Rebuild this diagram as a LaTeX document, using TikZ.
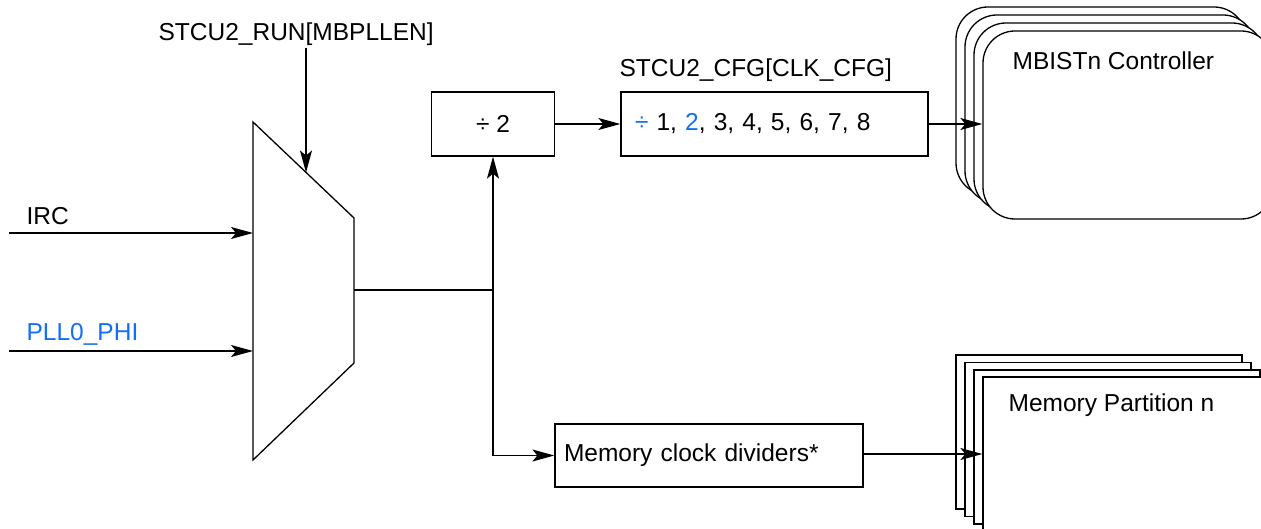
\documentclass[tikz,border=0pt]{standalone}
\usepackage{fontspec}
\setmainfont{Liberation Sans}
\usetikzlibrary{arrows.meta}
\definecolor{fsblue}{RGB}{20,110,245}
\begin{document}
\begin{tikzpicture}[x=1pt,y=-1pt,line width=1.3pt,
  font=\fontsize{24.5}{29}\selectfont,
  >={Stealth[length=22pt,width=12pt,inset=5pt]},
  box/.style={draw,fill=white,inner sep=0pt},
  txt/.style={anchor=base west,inner sep=0pt},
  mbox/.style={draw,fill=white,rounded corners=32pt,minimum width=290pt,minimum height=188pt,inner sep=0pt},
  pbox/.style={draw,fill=white,minimum width=286pt,minimum height=154pt,inner sep=0pt}]
\useasboundingbox (0,0) rectangle (1261,529);
\clip (0,0) rectangle (1261,529);

% multiplexer
\draw (253,122) coordinate (m1) -- (354,218) coordinate (m2) -- (354,363) coordinate (m3) -- (253,460) coordinate (m4) -- cycle;
\coordinate (muxout) at (354,290);
\coordinate (j) at (493,290);
\coordinate (runtop) at (306,48);
\coordinate (runend) at (306,172.5);

% inputs
\coordinate (ircin) at (9,233);
\coordinate (ircend) at (253,233);
\coordinate (pllin) at (9,351);
\coordinate (pllend) at (253,351);
\node[txt] (irclbl) at (26,225) {IRC};
\node[txt,text=fsblue] (plllbl) at (26,341) {PLL0\_PHI};
\node[txt] (runlbl) at (158,41) {STCU2\_RUN[MBPLLEN]};

% boxes
\node[box,minimum width=123pt,minimum height=64pt] (div2) at (493,124) {÷ 2};
\node[txt] (cfglbl) at (619,77) {STCU2\_CFG[CLK\_CFG]};
\node[box,minimum width=307pt,minimum height=64pt,text width=279pt,align=left] (cfg) at (774.5,124)
  {{\color{fsblue}÷} 1, {\color{fsblue}2}, 3, 4, 5, 6, 7, 8};
\node[box,minimum width=308pt,minimum height=63pt,text width=290pt,align=left] (mcd) at (709,455.5)
  {Memory clock dividers*};

% MBIST stack
\node[mbox] (mb1) at (1101,101) {};
\node[mbox] (mb2) at (1110,109) {};
\node[mbox] (mb3) at (1119,117) {};
\node[mbox] (mb4) at (1128,125) {};
\node[txt] (mblbl) at (1012,70) {MBISTn Controller};

% Memory partition stack
\node[pbox] (mp1) at (1099,432) {};
\node[pbox] (mp2) at (1108,439.5) {};
\node[pbox] (mp3) at (1117,447) {};
\node[pbox] (mp4) at (1126,454) {};
\node[txt] (mplbl) at (1008,411) {Memory Partition n};

% connectors
\draw[->] (ircin) -- (ircend);
\draw[->] (pllin) -- (pllend);
\draw[->] (runtop) -- (runend);
\draw (muxout) -- (j);
\draw[->] (j) -- (div2.south);
\draw[->] (j) |- (mcd.west);
\draw[->] (div2.east) -- (cfg.west);
\draw[->] (cfg.east) -- (cfg.east -| mb4.west);
\draw[->] (mcd.east |- mp4.west) -- (mp4.west);
\end{tikzpicture}
\end{document}
